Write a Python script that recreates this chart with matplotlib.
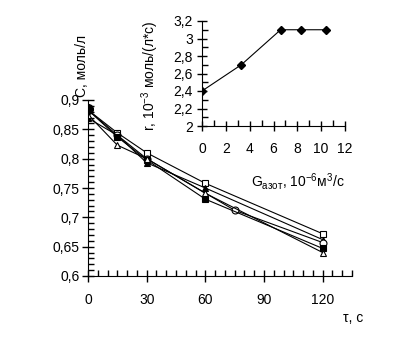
import numpy as np
import matplotlib
matplotlib.use("Agg")
import matplotlib.pyplot as plt
from matplotlib.ticker import MultipleLocator, FuncFormatter

plt.rcParams['font.family'] = ['Liberation Sans', 'DejaVu Sans']
plt.rcParams['mathtext.default'] = 'regular'

# main chart: concentration vs time
t_sq_open = [0, 15, 30, 60, 120]
c_sq_open = [0.883, 0.844, 0.810, 0.758, 0.672]
t_tri_fill = [0, 15, 30, 60, 120]
c_tri_fill = [0.869, 0.840, 0.793, 0.750, 0.662]
t_circ_open = [0, 15, 30, 75, 120]
c_circ_open = [0.883, 0.840, 0.800, 0.712, 0.657]
t_sq_fill = [0, 15, 30, 60, 120]
c_sq_fill = [0.883, 0.837, 0.798, 0.731, 0.647]
t_tri_open = [0, 15, 30, 60, 120]
c_tri_open = [0.875, 0.823, 0.800, 0.741, 0.640]
t_circ_fill = [0]
c_circ_fill = [0.884]

# inset: rate vs nitrogen flow
g_flow = [0, 3.3, 6.6, 8.3, 10.4]
r_rate = [2.4, 2.7, 3.1, 3.1, 3.1]

def comma(v, pos):
    s = ('%g' % round(v, 3))
    return s.replace('.', ',')

fig = plt.figure(figsize=(4.01, 3.6), dpi=100)
ax = fig.add_axes([88/401, 1-276/360, 264/401, 176/360])

kw = dict(color='black', lw=0.8, ms=5, mew=0.8)
ax.plot(t_sq_open, c_sq_open, marker='s', mfc='white', **kw)
ax.plot(t_tri_fill, c_tri_fill, marker='^', mfc='black', **kw)
ax.plot(t_circ_open, c_circ_open, marker='o', mfc='white', **kw)
ax.plot(t_sq_fill, c_sq_fill, marker='s', mfc='black', **kw)
ax.plot(t_tri_open, c_tri_open, marker='^', mfc='white', **kw)
ax.plot(t_circ_fill, c_circ_fill, marker='o', mfc='black', ls='none', color='black', ms=7)

ax.set_xlim(0, 135)
ax.set_ylim(0.6, 0.9)
ax.xaxis.set_major_locator(MultipleLocator(30))
ax.xaxis.set_minor_locator(MultipleLocator(5))
ax.yaxis.set_major_locator(MultipleLocator(0.05))
ax.yaxis.set_minor_locator(MultipleLocator(0.01))
ax.yaxis.set_major_formatter(FuncFormatter(comma))
for s in ['top', 'right']:
    ax.spines[s].set_visible(False)
ax.tick_params(which='major', direction='inout', length=8, width=1, labelsize=10, pad=8)
ax.tick_params(which='minor', direction='in', length=4, width=1)
ax.tick_params(axis='y', which='major', pad=2)
fig.text(353/401, 1-318/360, 'τ, с', fontsize=10, ha='center', va='center')
fig.text(82/401, 1-66/360, 'С, моль/л', fontsize=10, rotation=90, ha='center', va='center')

# inset axes
ins = fig.add_axes([202/401, 1-126/360, 143/401, 105/360])
ins.plot(g_flow, r_rate, color='black', lw=0.8, marker='D', ms=4.5, mfc='black')
ins.set_xlim(0, 12)
ins.set_ylim(2, 3.2)
ins.xaxis.set_major_locator(MultipleLocator(2))
ins.xaxis.set_minor_locator(MultipleLocator(1))
ins.yaxis.set_major_locator(MultipleLocator(0.2))
ins.yaxis.set_minor_locator(MultipleLocator(0.1))
ins.yaxis.set_major_formatter(FuncFormatter(comma))
for s in ['top', 'right']:
    ins.spines[s].set_visible(False)
ins.tick_params(which='major', direction='inout', length=7, width=1, labelsize=10, pad=8)
ins.tick_params(which='minor', direction='in', length=4, width=1)
ins.tick_params(axis='y', which='major', pad=3)
fig.text(298/401, 1-182/360, r'G$_{азот}$, 10$^{-6}$м$^{3}$/с', fontsize=10, ha='center', va='center')
fig.text(150/401, 1-76/360, r'r, 10$^{-3}$ моль/(л*с)', fontsize=10, rotation=90, ha='center', va='center')

fig.savefig('out.png', dpi=100)
